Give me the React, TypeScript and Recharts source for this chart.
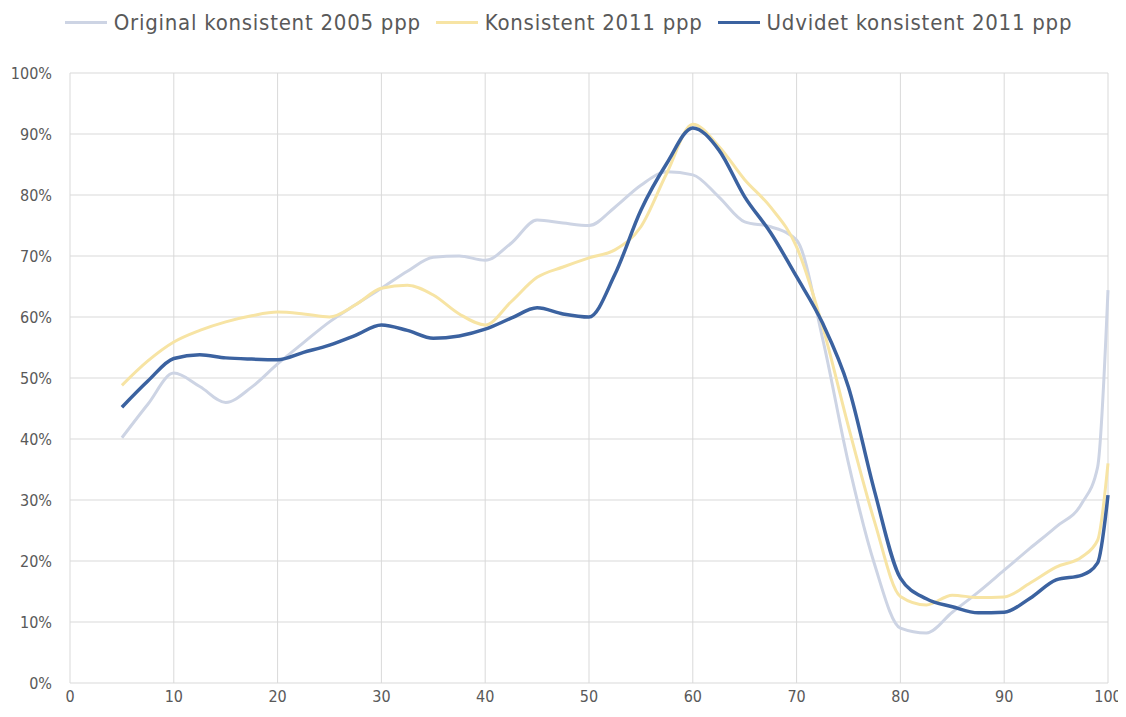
import { LineChart, Line, XAxis, YAxis, CartesianGrid, Legend } from 'recharts'

const percentiles = [
  5, 7.5, 10, 12.5, 15, 17.5, 20, 22.5, 25, 27.5, 30, 32.5, 35, 37.5, 40, 42.5, 45, 47.5, 50, 52.5,
  55, 57.5, 60, 62.5, 65, 67.5, 70, 72.5, 75, 77.5, 80, 82.5, 85, 87.5, 90, 92.5, 95, 97.5, 99, 100,
]

const original2005 = [
  40.2, 45.7, 50.8, 48.6, 46.0, 48.5, 52.3, 55.8, 59.2, 62.0, 64.7, 67.5, 69.8, 70.0, 69.3, 72.1, 75.9, 75.4, 75.0, 78.0,
  81.6, 83.8, 83.3, 79.7, 75.6, 74.8, 72.6, 56.5, 36.0, 19.5, 9.0, 8.2, 11.6, 14.9, 18.5, 22.1, 25.6, 29.5, 35.4, 64.4,
]

const konsistent2011 = [
  48.8, 52.8, 55.9, 57.8, 59.2, 60.2, 60.8, 60.5, 60.0, 62.0, 64.7, 65.2, 63.6, 60.5, 58.7, 62.5, 66.5, 68.2, 69.7, 71.0,
  74.8, 83.6, 91.6, 88.0, 82.5, 78.0, 71.5, 58.5, 42.0, 26.5, 14.2, 12.8, 14.4, 14.0, 14.1, 16.4, 19.0, 20.7, 23.4, 36.0,
]

const udvidet2011 = [
  45.2, 49.5, 53.2, 53.8, 53.3, 53.1, 53.0, 54.2, 55.4, 57.0, 58.7, 57.8, 56.5, 56.9, 58.0, 59.8, 61.5, 60.5, 60.0, 67.0,
  77.5, 85.2, 91.0, 87.4, 79.7, 73.8, 66.6, 59.0, 48.5, 31.5, 17.2, 13.8, 12.5, 11.5, 11.6, 13.9, 16.9, 17.7, 19.7, 30.8,
]

const xTicks = [0, 10, 20, 30, 40, 50, 60, 70, 80, 90, 100]
const yTicks = [0, 10, 20, 30, 40, 50, 60, 70, 80, 90, 100]

const series = [
  { key: 'original', name: 'Original konsistent 2005 ppp', color: '#cdd4e4', width: 3 },
  { key: 'konsistent', name: 'Konsistent 2011 ppp', color: '#f7e4a4', width: 3 },
  { key: 'udvidet', name: 'Udvidet konsistent 2011 ppp', color: '#3b62a0', width: 3.5 },
]

const data = percentiles.map((p, i) => ({
  p,
  original: original2005[i],
  konsistent: konsistent2011[i],
  udvidet: udvidet2011[i],
}))

const FONT = '"Liberation Sans Narrow", "DejaVu Sans Condensed", "Open Sans", sans-serif'

function TopLegend() {
  return (
    <div style={{ display: 'flex', justifyContent: 'center', height: 28, alignItems: 'center', paddingLeft: 36 }}>
      {series.map(s => (
        <div key={s.key} style={{ display: 'flex', alignItems: 'center', marginRight: 15 }}>
          <span style={{ display: 'inline-block', width: 42, height: 3, background: s.color, marginRight: 7 }} />
          <span style={{ fontFamily: FONT, fontSize: 22, letterSpacing: 0.75, color: '#595959' }}>{s.name}</span>
        </div>
      ))}
    </div>
  )
}

export default function App() {
  return (
    <div style={{ background: '#fff' }}>
      <LineChart width={1118} height={701} data={data} margin={{ top: 25, right: 18, left: 0, bottom: 0 }}>
        <CartesianGrid stroke="#d9d9d9" strokeWidth={1} />
        <XAxis
          dataKey="p"
          type="number"
          domain={[0, 100]}
          ticks={xTicks}
          height={26}
          axisLine={false}
          tickLine={false}
          tick={{ fill: '#595959', fontSize: 16, fontFamily: FONT }}
        />
        <YAxis
          type="number"
          domain={[0, 100]}
          ticks={yTicks}
          width={62}
          axisLine={false}
          tickLine={false}
          tickMargin={12}
          tickFormatter={v => `${v}%`}
          tick={{ fill: '#595959', fontSize: 16, fontFamily: FONT }}
        />
        <Legend verticalAlign="top" height={40} wrapperStyle={{ top: 0 }} content={() => <TopLegend />} />
        {series.map(s => (
          <Line
            key={s.key}
            dataKey={s.key}
            name={s.name}
            type="monotone"
            stroke={s.color}
            strokeWidth={s.width}
            dot={false}
            isAnimationActive={false}
          />
        ))}
      </LineChart>
    </div>
  )
}
